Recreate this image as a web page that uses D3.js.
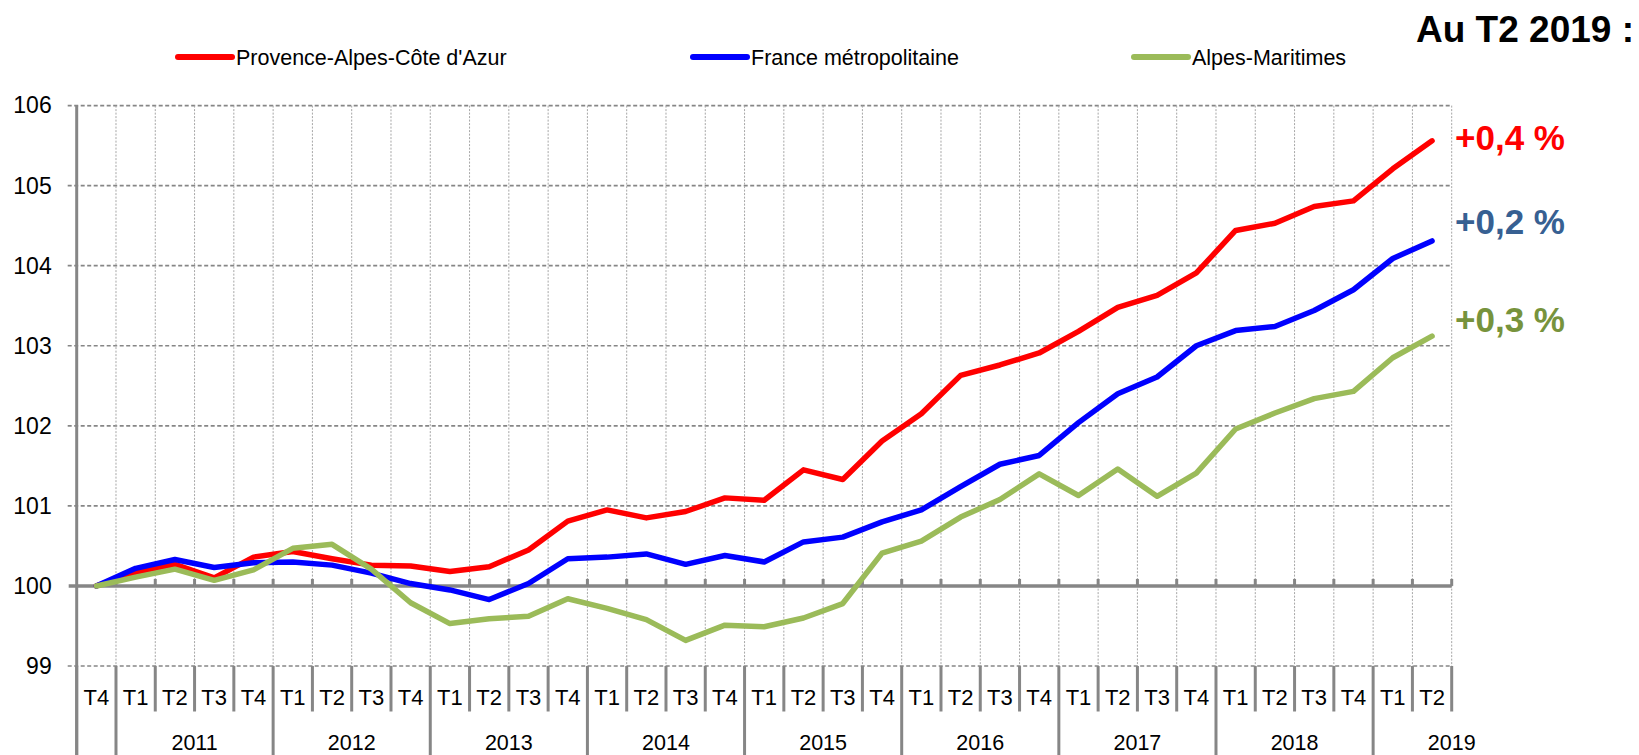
<!DOCTYPE html>
<html>
<head>
<meta charset="utf-8">
<script src="https://cdn.jsdelivr.net/npm/d3@7"></script>
<style>
  body { margin: 0; background: #fff; }
  text { font-family: "Liberation Sans", Arial, sans-serif; }
</style>
</head>
<body>
<script>
// quarters, T4 2010 -> T2 2019
const quarters = ['T4',
    'T1', 'T2', 'T3', 'T4', 'T1', 'T2', 'T3', 'T4', 'T1', 'T2', 'T3', 'T4',
    'T1', 'T2', 'T3', 'T4', 'T1', 'T2', 'T3', 'T4', 'T1', 'T2', 'T3', 'T4',
    'T1', 'T2', 'T3', 'T4', 'T1', 'T2', 'T3', 'T4', 'T1', 'T2']
const years = [2010,
    2011, 2011, 2011, 2011, 2012, 2012, 2012, 2012, 2013, 2013, 2013, 2013,
    2014, 2014, 2014, 2014, 2015, 2015, 2015, 2015, 2016, 2016, 2016, 2016,
    2017, 2017, 2017, 2017, 2018, 2018, 2018, 2018, 2019, 2019]
const yearLabels = ['2011', '2012', '2013', '2014', '2015', '2016', '2017', '2018', '2019']

const paca = [100, 100.17, 100.27, 100.10, 100.36, 100.43, 100.34, 100.26, 100.25, 100.18,
    100.24, 100.45, 100.81, 100.95, 100.85, 100.93, 101.10, 101.07, 101.45, 101.33,
    101.81, 102.15, 102.63, 102.76, 102.91, 103.18, 103.48, 103.63, 103.91, 104.44,
    104.53, 104.74, 104.81, 105.21, 105.56]
const france = [100, 100.22, 100.33, 100.23, 100.29, 100.30, 100.26, 100.16, 100.03, 99.95,
    99.83, 100.03, 100.34, 100.36, 100.40, 100.27, 100.38, 100.30, 100.55, 100.61,
    100.80, 100.95, 101.24, 101.52, 101.63, 102.04, 102.40, 102.61, 103.00, 103.19,
    103.24, 103.44, 103.70, 104.09, 104.31]
const alpesMar = [100, 100.11, 100.21, 100.07, 100.20, 100.47, 100.52, 100.21, 99.79, 99.53,
    99.59, 99.62, 99.84, 99.72, 99.58, 99.32, 99.51, 99.49, 99.60, 99.78,
    100.41, 100.56, 100.86, 101.08, 101.40, 101.13, 101.46, 101.12, 101.41, 101.96,
    102.16, 102.34, 102.43, 102.85, 103.12]

const seriesNames = ['Provence-Alpes-Côte d\'Azur', 'France métropolitaine', 'Alpes-Maritimes']
const seriesColors = ['#ff0000', '#0000ff', '#9bbb59']
const yTicks = [99, 100, 101, 102, 103, 104, 105, 106]

const title = 'Au T2 2019 :'
const endLabels = ['+0,4 %', '+0,2 %', '+0,3 %']
const endColors = ['#ff0000', '#376092', '#77933c']

const chart = () => {
    var width = 1639,
        height = 755
    var left = 76.7, right = 1451.7, top = 105.6, bottom = 666
    var grey = '#868686'

    var svg = d3.select('body').append('svg')
        .attr('width', width)
        .attr('height', height)

    var idx = d3.range(quarters.length)
    var x = d3.scaleBand().domain(idx).range([left, right]).padding(0)
    var bw = x.bandwidth()
    var cx = i => x(i) + bw / 2
    var bx = i => i < quarters.length ? x(i) : right
    var y = d3.scaleLinear().domain([99, 106]).range([bottom, top])

    // horizontal dashed grid
    svg.append('g').selectAll('line')
        .data(yTicks.filter(d => d != 100)).enter()
        .append('line')
        .attr('x1', left - 9).attr('x2', right)
        .attr('y1', d => y(d)).attr('y2', d => y(d))
        .attr('stroke', grey).attr('stroke-width', 1.7)
        .attr('stroke-dasharray', '4,2.5')

    // vertical dotted grid at quarter boundaries
    svg.append('g').selectAll('line')
        .data(d3.range(1, quarters.length + 1)).enter()
        .append('line')
        .attr('x1', bx).attr('x2', bx)
        .attr('y1', top).attr('y2', bottom)
        .attr('stroke', '#a6a6a6').attr('stroke-width', 1)
        .attr('stroke-dasharray', '2,1.5')

    // y axis line
    svg.append('line')
        .attr('x1', left).attr('x2', left)
        .attr('y1', top).attr('y2', height)
        .attr('stroke', grey).attr('stroke-width', 3)

    // 100 base line + small ticks
    svg.append('line')
        .attr('x1', left - 8).attr('x2', right)
        .attr('y1', y(100)).attr('y2', y(100))
        .attr('stroke', grey).attr('stroke-width', 3.5)
    svg.append('g').selectAll('line')
        .data(d3.range(1, quarters.length + 1)).enter()
        .append('line')
        .attr('x1', bx).attr('x2', bx)
        .attr('y1', y(100) - 7).attr('y2', y(100))
        .attr('stroke', grey).attr('stroke-width', 3)

    // y labels
    var yAxis = svg.append('g')
        .attr('transform', `translate(${left},0)`)
        .call(d3.axisLeft(y).tickValues(yTicks).tickFormat(d3.format('d')).tickSize(0).tickPadding(25))
    yAxis.select('.domain').remove()
    yAxis.selectAll('text')
        .attr('font-family', '"Liberation Sans", Arial, sans-serif')
        .attr('font-size', 23).attr('fill', '#000')

    // category axis: quarter separators, year separators
    svg.append('g').selectAll('line')
        .data(d3.range(0, quarters.length + 1)).enter()
        .append('line')
        .attr('x1', bx).attr('x2', bx)
        .attr('y1', bottom)
        .attr('y2', i => i == 0 || (i < quarters.length && years[i] != years[i - 1]) ? height : 711.5)
        .attr('stroke', grey).attr('stroke-width', 3)

    svg.append('g').selectAll('text')
        .data(idx).enter()
        .append('text')
        .attr('x', cx)
        .attr('y', 705)
        .attr('text-anchor', 'middle')
        .attr('font-size', 22)
        .text(i => quarters[i])

    svg.append('g').selectAll('text')
        .data(yearLabels).enter()
        .append('text')
        .attr('x', d => x(years.indexOf(+d)) + 2 * bw)
        .attr('y', 750)
        .attr('text-anchor', 'middle')
        .attr('font-size', 21.5)
        .text(d => d)

    // lines
    var line = d3.line()
        .x((d, i) => cx(i))
        .y(d => y(d))
    svg.append('g').selectAll('path')
        .data([paca, france, alpesMar]).enter()
        .append('path')
        .attr('d', line)
        .attr('fill', 'none')
        .attr('stroke', (d, i) => seriesColors[i])
        .attr('stroke-width', 5.5)
        .attr('stroke-linejoin', 'round')
        .attr('stroke-linecap', 'round')

    // legend
    var legendX = [178, 693, 1134]
    var lg = svg.append('g').selectAll('g')
        .data(seriesNames).enter()
        .append('g')
        .attr('transform', (d, i) => `translate(${legendX[i]},57)`)
    lg.append('line')
        .attr('x1', 0).attr('x2', 54)
        .attr('stroke', (d, i) => seriesColors[i])
        .attr('stroke-width', 6)
        .attr('stroke-linecap', 'round')
    lg.append('text')
        .attr('x', 58).attr('y', 7.5)
        .attr('font-size', 21.5)
        .text(d => d)

    // title + end labels
    svg.append('text')
        .attr('x', 1634).attr('y', 42)
        .attr('text-anchor', 'end')
        .attr('font-size', 37).attr('font-weight', 'bold')
        .text(title)

    var endY = [150, 234, 332]
    svg.append('g').selectAll('text')
        .data(endLabels).enter()
        .append('text')
        .attr('x', 1455)
        .attr('y', (d, i) => endY[i])
        .attr('font-size', 35).attr('font-weight', 'bold')
        .attr('fill', (d, i) => endColors[i])
        .text(d => d)
}

chart()
</script>
</body>
</html>
